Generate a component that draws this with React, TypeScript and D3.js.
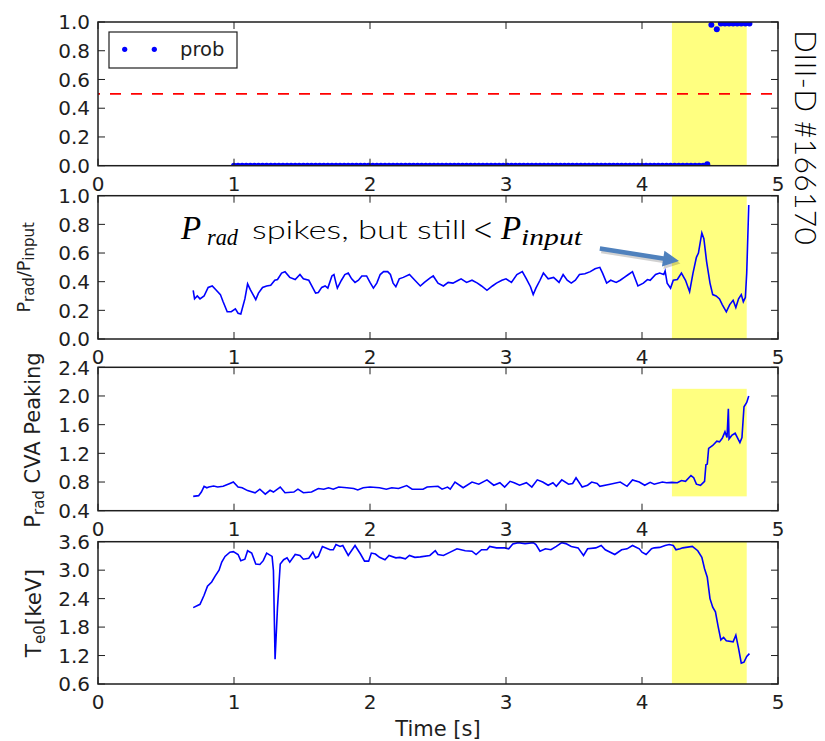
import React from "react";
import * as d3 from "d3";

// ---------- data ----------
const timeTicks = [0, 1, 2, 3, 4, 5];
const probTicks = [0, 0.2, 0.4, 0.6, 0.8, 1.0];
const ratioTicks = [0, 0.2, 0.4, 0.6, 0.8, 1.0];
const peakTicks = [0.4, 0.8, 1.2, 1.6, 2.0, 2.4];
const teTicks = [0.6, 1.2, 1.8, 2.4, 3.0, 3.6];

const alarmWindow = [4.22, 4.77];
const peakWindowRange = [0.6, 2.1];
const threshold = 0.5;

const probTime = [
  1.00, 1.03, 1.06, 1.09, 1.12, 1.15, 1.18, 1.21, 1.24, 1.27, 1.30, 1.33, 1.36, 1.39, 1.42, 1.45, 1.48, 1.51, 1.54, 1.57,
  1.60, 1.63, 1.66, 1.69, 1.72, 1.75, 1.78, 1.81, 1.84, 1.87, 1.90, 1.93, 1.96, 1.99, 2.02, 2.05, 2.08, 2.11, 2.14, 2.17,
  2.20, 2.23, 2.26, 2.29, 2.32, 2.35, 2.38, 2.41, 2.44, 2.47, 2.50, 2.53, 2.56, 2.59, 2.62, 2.65, 2.68, 2.71, 2.74, 2.77,
  2.80, 2.83, 2.86, 2.89, 2.92, 2.95, 2.98, 3.01, 3.04, 3.07, 3.10, 3.13, 3.16, 3.19, 3.22, 3.25, 3.28, 3.31, 3.34, 3.37,
  3.40, 3.43, 3.46, 3.49, 3.52, 3.55, 3.58, 3.61, 3.64, 3.67, 3.70, 3.73, 3.76, 3.79, 3.82, 3.85, 3.88, 3.91, 3.94, 3.97,
  4.00, 4.03, 4.06, 4.09, 4.12, 4.15, 4.18, 4.21, 4.24, 4.27, 4.30, 4.33, 4.36, 4.39, 4.42, 4.45, 4.48,
  4.51, 4.55, 4.58, 4.61, 4.64, 4.67, 4.70, 4.73, 4.76, 4.79,
];
const probValue = [
  0, 0, 0, 0, 0, 0, 0, 0, 0, 0, 0, 0, 0, 0, 0, 0, 0, 0, 0, 0,
  0, 0, 0, 0, 0, 0, 0, 0, 0, 0, 0, 0, 0, 0, 0, 0, 0, 0, 0, 0,
  0, 0, 0, 0, 0, 0, 0, 0, 0, 0, 0, 0, 0, 0, 0, 0, 0, 0, 0, 0,
  0, 0, 0, 0, 0, 0, 0, 0, 0, 0, 0, 0, 0, 0, 0, 0, 0, 0, 0, 0,
  0, 0, 0, 0, 0, 0, 0, 0, 0, 0, 0, 0, 0, 0, 0, 0, 0, 0, 0, 0,
  0, 0, 0, 0, 0, 0, 0, 0, 0, 0, 0, 0, 0, 0, 0, 0, 0.01,
  0.98, 0.95, 0.99, 0.99, 0.99, 0.99, 0.99, 0.99, 0.99, 0.99,
];

const ratioTime = [
  0.70, 0.71, 0.73, 0.75, 0.78, 0.81, 0.84, 0.87, 0.90, 0.92, 0.95, 0.98, 1.01, 1.03, 1.05, 1.08, 1.10, 1.12, 1.14, 1.16,
  1.18, 1.21, 1.24, 1.27, 1.30, 1.32, 1.35, 1.375, 1.41, 1.45, 1.485, 1.51, 1.55, 1.57, 1.60, 1.62, 1.645, 1.67, 1.69, 1.72,
  1.735, 1.75, 1.76, 1.79, 1.815, 1.84, 1.865, 1.89, 1.915, 1.94, 1.975, 2.00, 2.025, 2.05, 2.075, 2.10, 2.13, 2.15, 2.17, 2.19,
  2.215, 2.245, 2.29, 2.33, 2.37, 2.40, 2.44, 2.465, 2.50, 2.54, 2.575, 2.61, 2.65, 2.67, 2.71, 2.75, 2.79, 2.82, 2.86, 2.90,
  2.93, 2.97, 3.00, 3.04, 3.08, 3.12, 3.15, 3.18, 3.20, 3.22, 3.25, 3.275, 3.31, 3.35, 3.39, 3.42, 3.45, 3.48, 3.51, 3.54,
  3.58, 3.62, 3.655, 3.69, 3.71, 3.74, 3.77, 3.81, 3.84, 3.87, 3.90, 3.93, 3.95, 3.97, 4.01, 4.04, 4.06, 4.10, 4.13, 4.16,
  4.17, 4.185, 4.21, 4.23, 4.26, 4.29, 4.32, 4.35, 4.375, 4.40, 4.415, 4.44, 4.455, 4.475, 4.50, 4.52, 4.545, 4.57, 4.59, 4.62,
  4.645, 4.67, 4.69, 4.71, 4.73, 4.745, 4.76, 4.77, 4.785,
];
const ratioValue = [
  0.34, 0.28, 0.30, 0.28, 0.30, 0.36, 0.37, 0.34, 0.31, 0.26, 0.19, 0.19, 0.21, 0.18, 0.175, 0.28, 0.385, 0.345, 0.31, 0.275,
  0.32, 0.36, 0.37, 0.375, 0.41, 0.415, 0.46, 0.47, 0.43, 0.415, 0.45, 0.42, 0.41, 0.375, 0.32, 0.325, 0.36, 0.37, 0.355, 0.44,
  0.45, 0.39, 0.355, 0.41, 0.45, 0.46, 0.42, 0.395, 0.41, 0.44, 0.44, 0.395, 0.355, 0.39, 0.45, 0.47, 0.47, 0.45, 0.39, 0.365,
  0.42, 0.43, 0.45, 0.41, 0.37, 0.395, 0.425, 0.44, 0.39, 0.37, 0.395, 0.39, 0.41, 0.42, 0.395, 0.41, 0.39, 0.37, 0.34, 0.37,
  0.39, 0.41, 0.42, 0.395, 0.45, 0.47, 0.42, 0.365, 0.31, 0.355, 0.41, 0.46, 0.42, 0.43, 0.395, 0.45, 0.41, 0.39, 0.41, 0.45,
  0.455, 0.47, 0.49, 0.50, 0.46, 0.39, 0.41, 0.395, 0.41, 0.43, 0.45, 0.47, 0.42, 0.37, 0.39, 0.415, 0.41, 0.45, 0.46, 0.45,
  0.475, 0.39, 0.355, 0.41, 0.415, 0.46, 0.41, 0.33, 0.46, 0.57, 0.60, 0.74, 0.70, 0.54, 0.39, 0.31, 0.30, 0.28, 0.24, 0.19,
  0.24, 0.27, 0.22, 0.28, 0.31, 0.26, 0.29, 0.46, 0.935,
];

const peakTime = [
  0.70, 0.74, 0.76, 0.78, 0.80, 0.815, 0.85, 0.88, 0.92, 0.97, 0.995, 1.03, 1.06, 1.10, 1.155, 1.19, 1.23, 1.265, 1.29, 1.34,
  1.375, 1.44, 1.47, 1.51, 1.57, 1.62, 1.66, 1.695, 1.73, 1.77, 1.83, 1.88, 1.91, 1.95, 2.00, 2.07, 2.12, 2.16, 2.21, 2.27,
  2.31, 2.35, 2.39, 2.42, 2.50, 2.53, 2.57, 2.59, 2.625, 2.685, 2.75, 2.80, 2.86, 2.91, 2.955, 2.99, 3.03, 3.06, 3.10, 3.15,
  3.19, 3.23, 3.27, 3.31, 3.345, 3.37, 3.41, 3.46, 3.49, 3.515, 3.56, 3.60, 3.63, 3.67, 3.69, 3.765, 3.84, 3.89, 3.93, 3.98,
  4.02, 4.06, 4.09, 4.15, 4.18, 4.22, 4.26, 4.29, 4.32, 4.36, 4.38, 4.40, 4.43, 4.46, 4.47, 4.48, 4.49, 4.52, 4.55, 4.57,
  4.59, 4.61, 4.625, 4.635, 4.64, 4.66, 4.685, 4.72, 4.735, 4.75, 4.77, 4.785,
];
const peakValue = [
  0.60, 0.61, 0.66, 0.74, 0.72, 0.73, 0.745, 0.73, 0.74, 0.78, 0.80, 0.73, 0.72, 0.68, 0.65, 0.70, 0.63, 0.685, 0.66, 0.73,
  0.65, 0.66, 0.70, 0.65, 0.66, 0.71, 0.70, 0.72, 0.70, 0.73, 0.72, 0.71, 0.69, 0.72, 0.73, 0.72, 0.70, 0.72, 0.71, 0.75,
  0.70, 0.70, 0.70, 0.73, 0.74, 0.70, 0.73, 0.70, 0.80, 0.72, 0.80, 0.77, 0.83, 0.755, 0.79, 0.73, 0.81, 0.79, 0.755, 0.79,
  0.73, 0.83, 0.80, 0.755, 0.79, 0.74, 0.83, 0.77, 0.78, 0.86, 0.73, 0.755, 0.80, 0.78, 0.74, 0.77, 0.80, 0.74, 0.83, 0.80,
  0.755, 0.795, 0.77, 0.80, 0.79, 0.795, 0.79, 0.82, 0.81, 0.89, 0.86, 0.77, 0.755, 0.81, 1.04, 1.05, 1.27, 1.31, 1.37, 1.36,
  1.41, 1.50, 1.42, 1.82, 1.40, 1.45, 1.48, 1.35, 1.42, 1.85, 1.91, 2.0,
];

const teTime = [
  0.70, 0.75, 0.78, 0.805, 0.836, 0.86, 0.89, 0.91, 0.934, 0.97, 0.995, 1.03, 1.05, 1.08, 1.10, 1.13, 1.16, 1.19, 1.215, 1.24,
  1.28, 1.29, 1.302, 1.32, 1.34, 1.365, 1.39, 1.41, 1.45, 1.485, 1.51, 1.55, 1.58, 1.60, 1.62, 1.65, 1.706, 1.73, 1.75, 1.78,
  1.80, 1.84, 1.89, 1.93, 1.96, 1.99, 2.01, 2.04, 2.07, 2.11, 2.14, 2.19, 2.22, 2.26, 2.29, 2.33, 2.37, 2.44, 2.48, 2.50,
  2.54, 2.59, 2.64, 2.70, 2.75, 2.78, 2.82, 2.86, 2.88, 2.93, 2.99, 3.02, 3.05, 3.09, 3.14, 3.20, 3.22, 3.25, 3.29, 3.33,
  3.37, 3.41, 3.44, 3.48, 3.53, 3.57, 3.60, 3.66, 3.70, 3.73, 3.80, 3.85, 3.89, 3.93, 3.98, 4.00, 4.03, 4.07, 4.09, 4.13,
  4.17, 4.20, 4.23, 4.25, 4.28, 4.30, 4.37, 4.41, 4.44, 4.46, 4.48, 4.50, 4.52, 4.54, 4.56, 4.58, 4.60, 4.62, 4.67, 4.69,
  4.71, 4.73, 4.75, 4.77, 4.79,
];
const teValue = [
  2.21, 2.28, 2.47, 2.66, 2.75, 2.87, 3.00, 3.17, 3.29, 3.38, 3.39, 3.33, 3.20, 3.23, 3.41, 3.36, 3.13, 3.12, 3.20, 3.36,
  3.29, 2.99, 1.12, 2.22, 3.13, 3.22, 3.26, 3.17, 3.33, 3.31, 3.23, 3.25, 3.38, 3.26, 3.29, 3.50, 3.43, 3.43, 3.54, 3.50,
  3.52, 3.31, 3.52, 3.34, 3.19, 3.19, 3.36, 3.34, 3.27, 3.22, 3.31, 3.26, 3.27, 3.24, 3.31, 3.27, 3.28, 3.31, 3.41, 3.33,
  3.31, 3.38, 3.45, 3.41, 3.40, 3.33, 3.43, 3.43, 3.50, 3.47, 3.47, 3.45, 3.55, 3.58, 3.56, 3.58, 3.54, 3.40, 3.45, 3.43,
  3.50, 3.58, 3.56, 3.50, 3.47, 3.31, 3.45, 3.47, 3.52, 3.43, 3.33, 3.43, 3.45, 3.52, 3.45, 3.38, 3.33, 3.45, 3.47, 3.48,
  3.52, 3.54, 3.52, 3.43, 3.45, 3.47, 3.50, 3.41, 3.27, 3.03, 2.85, 2.40, 2.22, 2.12, 1.81, 1.53, 1.58, 1.51, 1.49, 1.63,
  1.35, 1.04, 1.06, 1.18, 1.24,
];

// annotation arrow (in time / ratio units)
const arrowFrom = [3.69, 0.632];
const arrowTo = [4.272, 0.544];

// ---------- layout ----------
const W = 825;
const H = 741;
const LEFT = 98;
const RIGHT = 778;
const TICK_FONT = "'DejaVu Sans', 'Bitstream Vera Sans', sans-serif";
const LIGHT_FONT = "Lato, 'Open Sans', sans-serif";
const MATH_FONT = "'Liberation Serif', 'DejaVu Serif', serif";
const INK = "#1e1e1e";

const x = d3.scaleLinear().domain([0, 5]).range([LEFT, RIGHT]);

type PanelDef = {
  key: string;
  top: number;
  bottom: number;
  domain: [number, number];
  ticks: number[];
};

const panels: PanelDef[] = [
  { key: "prob", top: 22, bottom: 165.7, domain: [0, 1], ticks: probTicks },
  { key: "ratio", top: 195.7, bottom: 339, domain: [0, 1], ticks: ratioTicks },
  { key: "peak", top: 367.3, bottom: 510.7, domain: [0.4, 2.4], ticks: peakTicks },
  { key: "te", top: 541.7, bottom: 684, domain: [0.6, 3.6], ticks: teTicks },
];

const yScale = (p: PanelDef) => d3.scaleLinear().domain(p.domain).range([p.bottom, p.top]);
const zip = (a: number[], b: number[]) => a.map((t, i) => [t, b[i]] as [number, number]);
const fmt = d3.format(".1f");

function Frame({ p }: { p: PanelDef }) {
  const y = yScale(p);
  const T = 7;
  return (
    <g>
      {timeTicks.map((t) => (
        <g key={"x" + t}>
          <line x1={x(t)} x2={x(t)} y1={p.bottom} y2={p.bottom - T} stroke={INK} strokeWidth={1} />
          <line x1={x(t)} x2={x(t)} y1={p.top} y2={p.top + T} stroke={INK} strokeWidth={1} />
          <text x={x(t)} y={p.bottom + 25} textAnchor="middle" fontFamily={TICK_FONT} fontSize={20} fill={INK}>
            {t}
          </text>
        </g>
      ))}
      {p.ticks.map((v) => (
        <g key={"y" + v}>
          <line x1={LEFT} x2={LEFT + T} y1={y(v)} y2={y(v)} stroke={INK} strokeWidth={1} />
          <line x1={RIGHT} x2={RIGHT - T} y1={y(v)} y2={y(v)} stroke={INK} strokeWidth={1} />
          <text x={90} y={y(v) + 7.2} textAnchor="end" fontFamily={TICK_FONT} fontSize={20} fill={INK}>
            {fmt(v)}
          </text>
        </g>
      ))}
      <rect x={LEFT} y={p.top} width={RIGHT - LEFT} height={p.bottom - p.top} fill="none" stroke={INK} strokeWidth={1.5} />
    </g>
  );
}

export default function App() {
  const [pProb, pRatio, pPeak, pTe] = panels;
  const yProb = yScale(pProb);
  const yRatio = yScale(pRatio);
  const yPeak = yScale(pPeak);
  const yTe = yScale(pTe);

  const ratioLine = d3.line<[number, number]>().x((d) => x(d[0])).y((d) => yRatio(d[1]));
  const peakLine = d3.line<[number, number]>().x((d) => x(d[0])).y((d) => yPeak(d[1]));
  const teLine = d3.line<[number, number]>().x((d) => x(d[0])).y((d) => yTe(d[1]));

  const probPts = zip(probTime, probValue);

  // arrow geometry
  const ax0 = x(arrowFrom[0]);
  const ay0 = yRatio(arrowFrom[1]);
  const ax1 = x(arrowTo[0]);
  const ay1 = yRatio(arrowTo[1]);
  const len = Math.hypot(ax1 - ax0, ay1 - ay0);
  const ux = (ax1 - ax0) / len;
  const uy = (ay1 - ay0) / len;
  const headL = 16;
  const headW = 8;
  const shaftW = 2.3;
  const bx = ax1 - ux * headL;
  const by = ay1 - uy * headL;
  const nx = -uy;
  const ny = ux;
  const arrowPts = [
    [ax0 + nx * shaftW, ay0 + ny * shaftW],
    [bx + nx * shaftW, by + ny * shaftW],
    [bx + nx * headW, by + ny * headW],
    [ax1, ay1],
    [bx - nx * headW, by - ny * headW],
    [bx - nx * shaftW, by - ny * shaftW],
    [ax0 - nx * shaftW, ay0 - ny * shaftW],
  ]
    .map((q) => q.join(","))
    .join(" ");

  const blue = "#0000ff";

  return (
    <svg width={W} height={H} style={{ display: "block", position: "absolute", left: 0, top: 0, background: "#fff" }}>
      <defs>
        {panels.map((p) => (
          <clipPath id={"clip-" + p.key} key={p.key}>
            <rect x={LEFT} y={p.top} width={RIGHT - LEFT} height={p.bottom - p.top} />
          </clipPath>
        ))}
      </defs>
      <rect x={0} y={0} width={W} height={H} fill="#fff" />

      {/* Panel 1: probability */}
      <g>
        <rect x={x(alarmWindow[0])} y={pProb.top} width={x(alarmWindow[1]) - x(alarmWindow[0])} height={pProb.bottom - pProb.top} fill="#ffff80" />
        <line x1={LEFT} x2={RIGHT} y1={yProb(threshold)} y2={yProb(threshold)} stroke="#ff0000" strokeWidth={1.6} strokeDasharray="11,10" strokeDashoffset={9} />
        <g clipPath="url(#clip-prob)">
          {probPts.map((d, i) => (
            <circle key={i} cx={x(d[0])} cy={yProb(d[1])} r={3} fill={blue} />
          ))}
        </g>
        <Frame p={pProb} />
        <g>
          <rect x={109} y={32} width={128} height={36} fill="#fff" stroke={INK} strokeWidth={1.2} />
          <circle cx={124.7} cy={49.3} r={2.6} fill={blue} />
          <circle cx={154.3} cy={49.3} r={2.6} fill={blue} />
          <text x={180} y={56} fontFamily={TICK_FONT} fontSize={19.5} fill={INK}>prob</text>
        </g>
      </g>

      {/* Panel 2: Prad / Pinput */}
      <g>
        <rect x={x(alarmWindow[0])} y={pRatio.top} width={x(alarmWindow[1]) - x(alarmWindow[0])} height={pRatio.bottom - pRatio.top} fill="#ffff80" />
        <path d={ratioLine(zip(ratioTime, ratioValue)) || ""} fill="none" stroke={blue} strokeWidth={1.6} clipPath="url(#clip-ratio)" />
        <Frame p={pRatio} />
        <text transform="translate(29.5,267.3) rotate(-90)" textAnchor="middle" fontFamily={TICK_FONT} fontSize={17.5} fill={INK}>
          P<tspan fontSize={15} dy={4}>rad</tspan>
          <tspan dy={-4}>/P</tspan>
          <tspan fontSize={15} dy={4}>input</tspan>
        </text>
      </g>

      {/* Panel 3: CVA peaking */}
      <g>
        <rect
          x={x(alarmWindow[0])}
          y={yPeak(peakWindowRange[1])}
          width={x(alarmWindow[1]) - x(alarmWindow[0])}
          height={yPeak(peakWindowRange[0]) - yPeak(peakWindowRange[1])}
          fill="#ffff80"
        />
        <path d={peakLine(zip(peakTime, peakValue)) || ""} fill="none" stroke={blue} strokeWidth={1.6} clipPath="url(#clip-peak)" />
        <Frame p={pPeak} />
        <text transform="translate(39.5,440) rotate(-90)" textAnchor="middle" fontFamily={TICK_FONT} fontSize={21} fill={INK}>
          P<tspan fontSize={15} dy={4}>rad</tspan>
          <tspan dy={-4}> CVA Peaking</tspan>
        </text>
      </g>

      {/* Panel 4: Te0 */}
      <g>
        <rect x={x(alarmWindow[0])} y={pTe.top} width={x(alarmWindow[1]) - x(alarmWindow[0])} height={pTe.bottom - pTe.top} fill="#ffff80" />
        <path d={teLine(zip(teTime, teValue)) || ""} fill="none" stroke={blue} strokeWidth={1.6} clipPath="url(#clip-te)" />
        <Frame p={pTe} />
        <text transform="translate(41.3,613) rotate(-90)" textAnchor="middle" fontFamily={TICK_FONT} fontSize={21.5} fill={INK}>
          T<tspan fontSize={15} dy={4}>e0</tspan>
          <tspan dy={-4}>[keV]</tspan>
        </text>
        <text x={438} y={736} textAnchor="middle" fontFamily={TICK_FONT} fontSize={21} fill={INK}>Time [s]</text>
      </g>

      {/* annotation */}
      <polygon points={arrowPts} fill="#000" opacity={0.18} transform="translate(1.5,2.5)" />
      <polygon points={arrowPts} fill="#4f81bd" />
      <g fill="#000">
        <text x={181} y={239} fontFamily={MATH_FONT} fontStyle="italic" fontSize={33}>P</text>
        <text x={207} y={245} fontFamily={MATH_FONT} fontStyle="italic" fontSize={23} textLength={31} lengthAdjust="spacingAndGlyphs">rad</text>
        <text x={252} y={239} fontFamily={LIGHT_FONT} fontWeight={300} fontSize={26} textLength={215} lengthAdjust="spacingAndGlyphs">spikes, but still</text>
        <text x={473} y={240} fontFamily={TICK_FONT} fontWeight={200} fontSize={32} textLength={20} lengthAdjust="spacingAndGlyphs">&lt;</text>
        <text x={501} y={239} fontFamily={MATH_FONT} fontStyle="italic" fontSize={33}>P</text>
        <text x={521} y={245} fontFamily={MATH_FONT} fontStyle="italic" fontSize={23} textLength={61} lengthAdjust="spacingAndGlyphs">input</text>
      </g>

      {/* shot label */}
      <text transform="translate(795,30) rotate(90)" fontFamily={LIGHT_FONT} fontWeight={300} fontSize={30} fill="#000" textLength={215} lengthAdjust="spacing">
        DIII-D #166170
      </text>
    </svg>
  );
}
